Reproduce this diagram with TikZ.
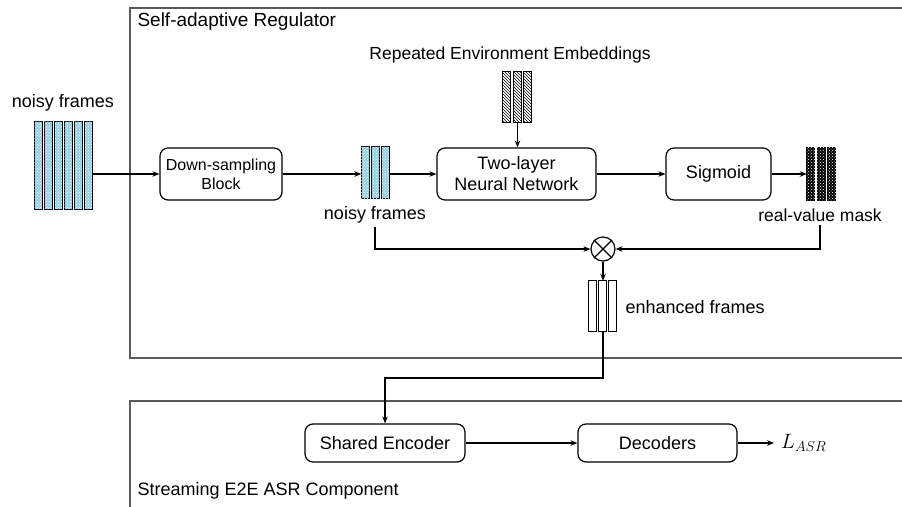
\documentclass[tikz,border=0pt]{standalone}
\usepackage{fontspec}
\setmainfont{Liberation Sans}
\usetikzlibrary{arrows.meta,patterns,calc}

\definecolor{framegray}{RGB}{90,90,90}
\definecolor{noisyblue}{RGB}{150,208,228}

% one group of frame bars: name, centre, count, bar width, pitch, height, bar style
\newcommand{\framegroup}[7]{%
  \node[inner sep=0pt, minimum width={#3*#5-(#5-#4)}, minimum height=#6] (#1) at #2 {};
  \foreach \k in {1,...,#3}{%
    \path[#7] ([xshift={(\k-1)*#5}]#1.north west) rectangle ++(#4,#6);
  }%
}

\tikzset{
  every node/.style={font=\fontsize{18}{21}\selectfont},
  block/.style={draw, line width=1.2pt, rounded corners=8pt, align=center, inner sep=0pt},
  conn/.style={line width=1.2pt, -{Stealth[length=7pt,width=5.5pt]}},
  plain/.style={line width=1.2pt},
  region/.style={draw=framegray, line width=1.1pt},
  noisybar/.style={draw, line width=1.1pt, fill=noisyblue, postaction={pattern=crosshatch dots, pattern color=white}},
  hatchbar/.style={draw, line width=1.1pt, fill=white, postaction={pattern=north west lines, pattern color=black}},
  maskbar/.style={draw, line width=1.1pt, fill=black, postaction={pattern=crosshatch dots, pattern color=white}},
  plainbar/.style={draw, line width=1.1pt, fill=white},
}

\begin{document}
\begin{tikzpicture}[x=1pt, y=-1pt]
\useasboundingbox (0,0) rectangle (902,506);

% region outlines
\draw[region] (905,8) -- (130,8) -- (130,358) -- (905,358);
\draw[region] (905,401) -- (130,401) -- (130,510);
\node[anchor=west, font=\fontsize{19}{22}\selectfont] (titleA) at (134,22) {Self-adaptive Regulator};
\node[anchor=west] (titleB) at (134,491) {Streaming E2E ASR Component};

% input frames
\node (inlabel) at (63,103) {noisy frames};
\framegroup{inframes}{(63.5,166)}{6}{7.5}{10}{88}{noisybar}

% regulator blocks
\node[block, minimum width=122, minimum height=52, font=\fontsize{16}{19}\selectfont] (ds) at (221,174) {Down-sampling\\Block};
\framegroup{dsframes}{(375.5,173)}{3}{8}{10}{52}{noisybar}
\node (dslabel) at (375,215) {noisy frames};

\node[font=\fontsize{17.5}{21}\selectfont] (emblabel) at (510,55) {Repeated Environment Embeddings};
\framegroup{emb}{(517.5,97.5)}{3}{8}{10.5}{51}{hatchbar}

\node[block, minimum width=159, minimum height=52] (nn) at (516.5,174) {Two-layer\\Neural Network};
\node[block, minimum width=105, minimum height=52] (sg) at (718.5,174) {Sigmoid};
\framegroup{mask}{(821.5,174)}{3}{8}{10.5}{53}{maskbar}
\node[font=\fontsize{17.5}{21}\selectfont] (masklabel) at (820,215) {real-value mask};

% element-wise product
\node[draw, circle, line width=1.2pt, minimum size=24pt, inner sep=0pt] (mul) at (603,249) {};
\draw[plain] (mul.north west) -- (mul.south east) (mul.north east) -- (mul.south west);

\framegroup{enh}{(603,306.5)}{3}{8}{10}{51}{plainbar}
\node[anchor=west] (enhlabel) at (622,307) {enhanced frames};

% ASR component
\node[block, minimum width=160, minimum height=38] (enc) at (385,443) {Shared Encoder};
\node[block, minimum width=159, minimum height=38] (dec) at (657.5,443) {Decoders};
\node[anchor=west, inner sep=0pt, font=\fontsize{21}{24}\selectfont] (loss) at (781,443) {$L_{ASR}$};

% connectors
\draw[conn] (inframes.east |- ds.west) -- (ds.west);
\draw[conn] (ds.east) -- (ds.east -| dsframes.west);
\draw[conn] (dsframes.east |- nn.west) -- (nn.west);
\draw[conn] (emb.south) -- (emb.south |- nn.north);
\draw[conn] (nn.east) -- (sg.west);
\draw[conn] (sg.east) -- (sg.east -| mask.west);
\draw[conn] (dslabel.south) |- (mul.west);
\draw[conn] (masklabel.south) |- (mul.east);
\draw[conn] (mul.south) -- (enh.north);
\coordinate (turn) at (603,378);
\draw[conn] (enh.south) -- (turn) -| (enc.north);
\draw[conn] (enc.east) -- (dec.west);
\draw[conn] (dec.east) -- ([xshift=-7pt]loss.west);
\end{tikzpicture}
\end{document}
